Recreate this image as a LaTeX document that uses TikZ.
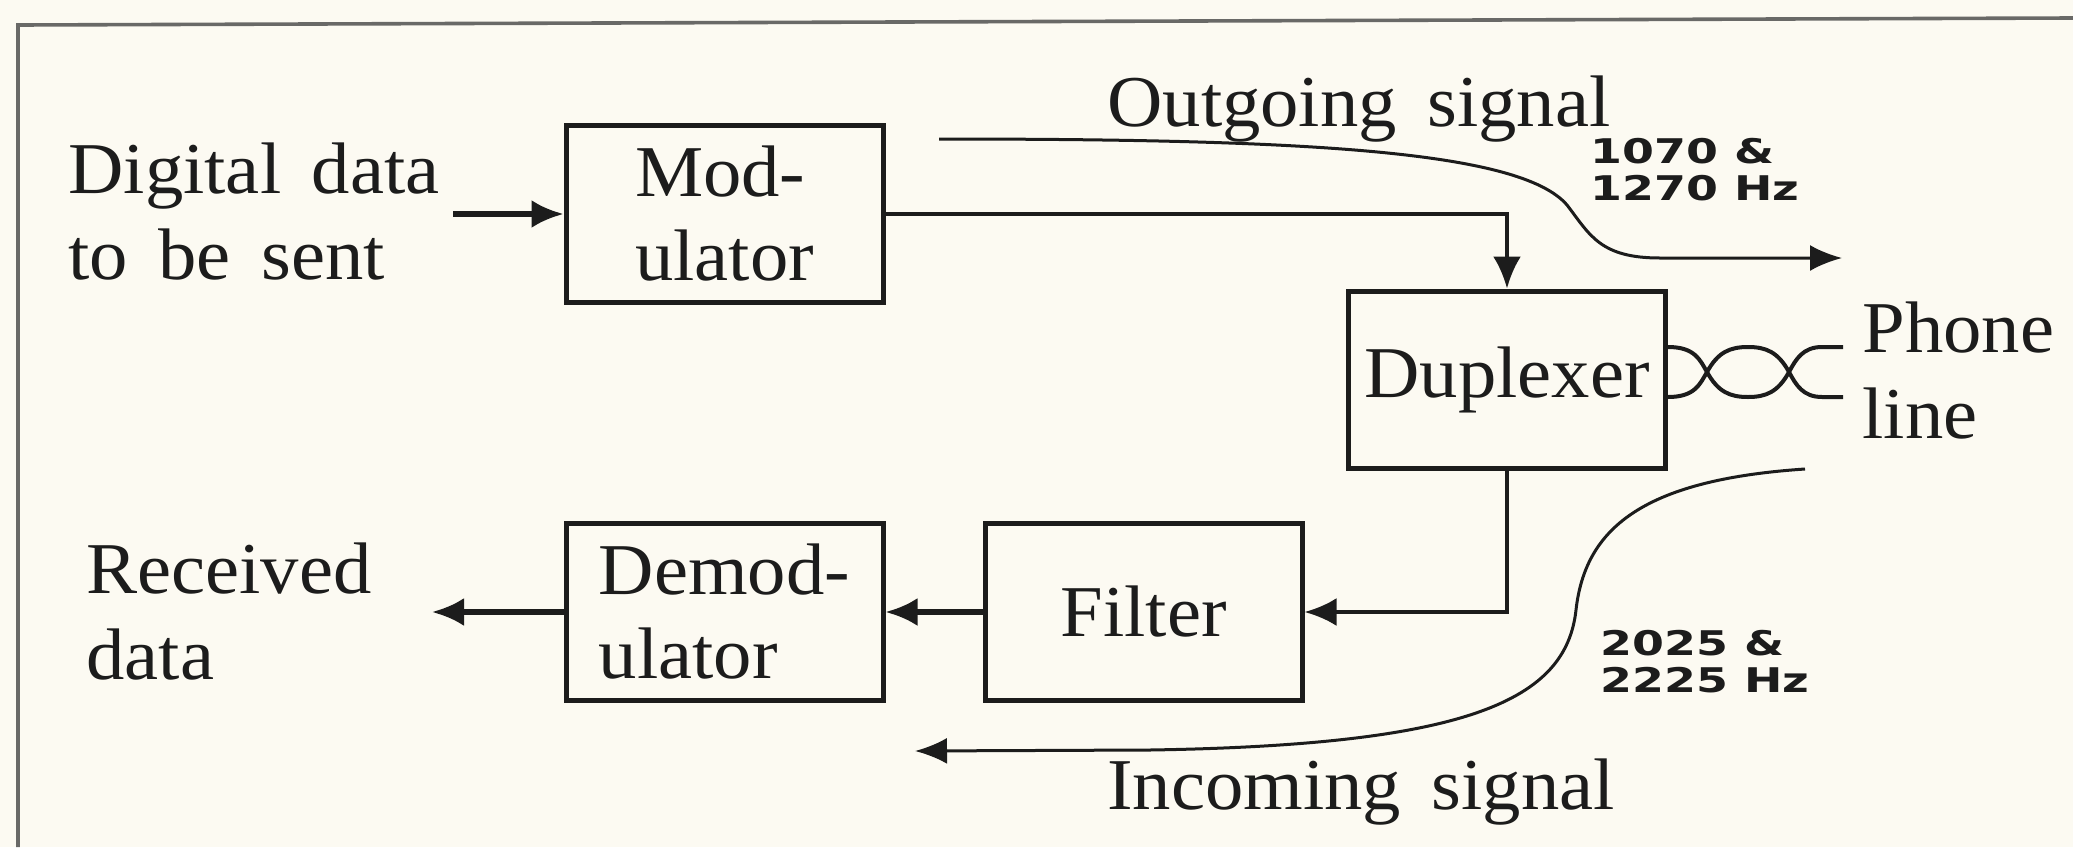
\documentclass[tikz,border=0pt]{standalone}
\usepackage{fontspec}
\setmainfont{Liberation Serif}[FakeStretch=1.05,WordSpace=1.6]
\newfontfamily\lblfont{DejaVu Sans Bold}[FakeStretch=1.35]
\usetikzlibrary{arrows.meta}
\definecolor{bg}{RGB}{252,250,242}
\definecolor{ink}{RGB}{28,28,28}
\definecolor{frame}{RGB}{105,105,103}
\begin{document}
\begin{tikzpicture}[x=0.5pt,y=-0.5pt,
  blk/.style={draw=ink, line width=2.5pt, minimum width=158.5pt, minimum height=88.5pt,
    inner sep=0pt, align=left, font=\fontsize{36.5}{42}\selectfont, text=ink},
  txt/.style={inner sep=0pt, align=left, font=\fontsize{36.5}{43}\selectfont, text=ink},
  freq/.style={inner sep=0pt, align=left, font=\lblfont\fontsize{17}{18.5}\selectfont, text=ink},
  tip/.style={-{Latex[length=16pt,width=14pt]}},
  arr/.style={draw=ink, line width=2.6pt, tip},
  wire/.style={draw=ink, line width=2.1pt, tip},
  sig/.style={draw=ink, line width=1.5pt, -{Latex[length=16pt,width=13pt]}},
  pair/.style={draw=ink, line width=2pt}
]
\fill[bg] (0,0) rectangle (2073,847);
\useasboundingbox (0,0) rectangle (2073,847);
\draw[frame, line width=1.8pt] (18,847) -- (18,25) -- (2073,18);

% blocks
\node[blk] (mod)   at (724.5,214) {Mod-\\ulator};
\node[blk] (dup)   at (1507,379.5) {Duplexer};
\node[blk] (filt)  at (1143.5,612) {Filter};
\node[blk] (demod) at (724.5,612) {Demod-\\ulator};

% texts
\node[txt, anchor=north west] (tin)  at (68,142)  {Digital data\\to be sent};
\node[txt, anchor=north west] (tout) at (86,542)  {Received\\data};
\node[txt, anchor=north west] (phone) at (1862,301) {Phone\\line};
\node[txt, anchor=base] (outsig) at (1359,126) {Outgoing signal};
\node[txt, anchor=base] (insig)  at (1361,809) {Incoming signal};
\node[freq, anchor=north west] (f1) at (1590,138) {1070 \&\\1270 Hz};
\node[freq, anchor=north west] (f2) at (1600,630) {2025 \&\\2225 Hz};

% connectors
\coordinate (din)  at (453,214);
\coordinate (dout) at (432,612);
\draw[arr] (din) -- (mod.west);
\draw[wire] (mod.east) -| (dup.north);
\draw[wire] (dup.south) |- (filt.east);
\draw[arr] (filt.west) -- (demod.east);
\draw[arr] (demod.west) -- (dout);

% outgoing signal
\coordinate (o1) at (939,139);
\coordinate (o2) at (1842,258);
\draw[sig] (o1) .. controls (1300,139) and (1520,150) .. (1567,205)
  .. controls (1590,235) and (1600,258) .. (1660,258) -- (o2);

% incoming signal
\coordinate (i1) at (1805,469);
\coordinate (i2) at (915,751);
\draw[sig] (i1) .. controls (1640,480) and (1585,530) .. (1576,610)
  .. controls (1566,700) and (1470,745) .. (1150,750) -- (i2);

% phone line (twisted pair)
\coordinate (pe) at (1843,347);
\coordinate (pf) at (1843,397);
\draw[pair] (dup.east |- 0,347) .. controls (1695,347) and (1700,360) .. (1707,372)
  .. controls (1718,392) and (1730,397) .. (1748,397)
  .. controls (1766,397) and (1778,392) .. (1789,372)
  .. controls (1796,359) and (1803,347) .. (1822,347) -- (pe);
\draw[pair] (dup.east |- 0,397) .. controls (1695,397) and (1700,384) .. (1707,372)
  .. controls (1718,352) and (1730,347) .. (1748,347)
  .. controls (1766,347) and (1778,352) .. (1789,372)
  .. controls (1796,385) and (1803,397) .. (1822,397) -- (pf);
\end{tikzpicture}
\end{document}
